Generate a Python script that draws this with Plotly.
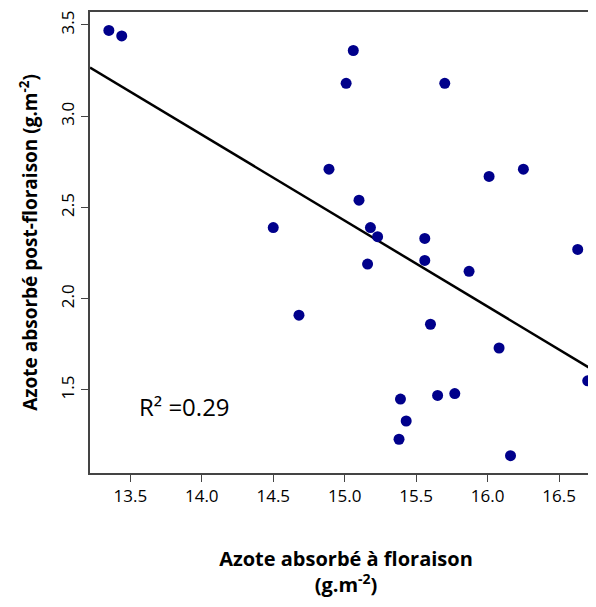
import numpy as np
import plotly.graph_objects as go

x_vals = [13.35, 13.44, 15.06, 15.01, 15.70, 14.89, 16.25, 16.01, 15.10, 14.50, 15.18, 15.23, 15.56, 16.63,
          15.56, 15.16, 15.87, 14.68, 15.60, 16.08, 16.70, 15.39, 15.65, 15.77, 15.43, 15.38, 16.16]
y_vals = [3.47, 3.44, 3.36, 3.18, 3.18, 2.71, 2.71, 2.67, 2.54, 2.39, 2.39, 2.34, 2.33, 2.27,
          2.21, 2.19, 2.15, 1.91, 1.86, 1.73, 1.55, 1.45, 1.47, 1.48, 1.33, 1.23, 1.14]
x_ticks = [13.5, 14.0, 14.5, 15.0, 15.5, 16.0, 16.5]
y_ticks = [1.5, 2.0, 2.5, 3.0, 3.5]
r2_label = "R² =0.29"

xr = [13.218, 16.80]
slope, icpt = np.polyfit(x_vals, y_vals, 1)
line_x = np.array(xr)
line_y = slope * line_x + icpt

fig = go.Figure()
fig.add_trace(go.Scatter(x=line_x, y=line_y, mode="lines", line=dict(color="black", width=2.5), hoverinfo="skip"))
fig.add_trace(go.Scatter(x=x_vals, y=y_vals, mode="markers", marker=dict(color="#00008B", size=11), cliponaxis=False))
fig.add_annotation(x=13.55, y=1.41, text=r2_label, showarrow=False, xanchor="left",
                   font=dict(family="Open Sans", size=24, color="black"))
fig.update_layout(
    width=596, height=607, showlegend=False, plot_bgcolor="white", paper_bgcolor="white",
    margin=dict(l=82, r=0, t=4, b=142),
    xaxis=dict(range=xr, tickvals=x_ticks, ticktext=[f"{v:.1f}" for v in x_ticks], showgrid=False, zeroline=False,
               showline=True, linecolor="#444", linewidth=2, ticks="outside", ticklen=7, tickcolor="#444",
               tickfont=dict(family="Open Sans", size=17, color="black"), mirror=True,
               title=dict(text="<b>Azote absorbé à floraison<br>(g.m<sup>-2</sup>)</b>", standoff=46,
                          font=dict(family="Open Sans", size=20, color="black"))),
    yaxis=dict(range=[1.045, 3.571], tickvals=y_ticks, ticktext=[f"{v:.1f}" for v in y_ticks], showgrid=False, zeroline=False,
               showline=True, linecolor="#444", linewidth=2, ticks="outside", ticklen=7, tickcolor="#444", tickangle=-90,
               tickfont=dict(family="Open Sans", size=17, color="black"), mirror=True,
               title=dict(text="<b>Azote absorbé post-floraison (g.m<sup>-2</sup>)</b>", standoff=14,
                          font=dict(family="Open Sans", size=19, color="black"))),
)
fig.write_html("out.html")
